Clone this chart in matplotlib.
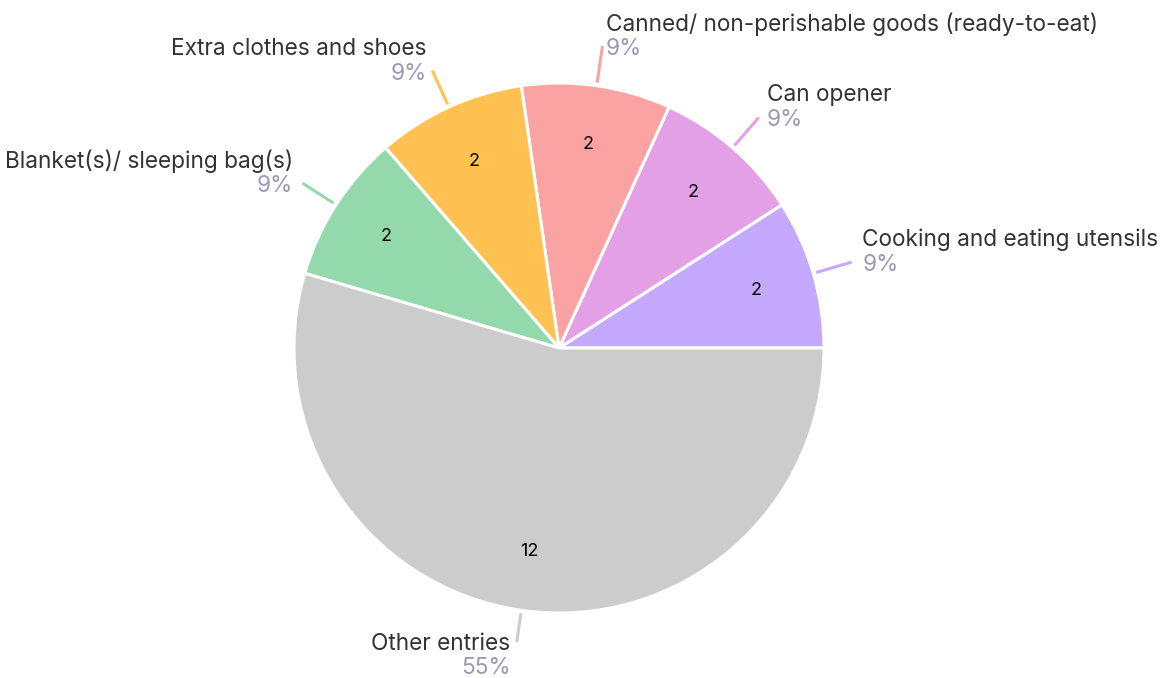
import numpy as np
import matplotlib
matplotlib.use("Agg")
import matplotlib.pyplot as plt
from matplotlib.patches import Wedge

categories = ["Cooking and eating utensils", "Can opener",
              "Canned/ non-perishable goods (ready-to-eat)",
              "Extra clothes and shoes", "Blanket(s)/ sleeping bag(s)",
              "Other entries"]
values = [2, 2, 2, 2, 2, 12]
colors = ["#C5A9FF", "#E3A0E6", "#FBA3A3", "#FFC152", "#94D9AB", "#CCCCCC"]

W, H = 1167, 678
plt.rcParams['font.family'] = ['Inter', 'DejaVu Sans']
fig = plt.figure(figsize=(W / 100, H / 100), dpi=100)
ax = fig.add_axes([0, 0, 1, 1])
ax.set_xlim(0, W)
ax.set_ylim(0, H)
ax.set_aspect('equal')
ax.axis('off')

cx, cy, R = 559, H - 348, 265
total = sum(values)
start = 0.0
fs = 16.3
for cat, v, c in zip(categories, values, colors):
    span = 360.0 * v / total
    ax.add_patch(Wedge((cx, cy), R, start, start + span, facecolor=c,
                       edgecolor='white', linewidth=2.2))
    mid = np.deg2rad(start + span / 2)
    cs, sn = np.cos(mid), np.sin(mid)
    # inner value
    ax.text(cx + 0.775 * R * cs, cy + 0.775 * R * sn, str(v), ha='center',
            va='center', fontsize=13, color='black')
    # leader line
    r0 = R + 3
    r1 = R + 40 if sn >= 0 else R + 32
    ex, ey = cx + r1 * cs, cy + r1 * sn
    ax.plot([cx + r0 * cs, ex], [cy + r0 * sn, ey], color=c, lw=2.2,
            solid_capstyle='butt')
    off = 2 + 9 * abs(cs)
    ha = 'left' if cs >= 0 else 'right'
    tx = ex + off if cs >= 0 else ex - off
    pct = f"{round(100 * v / total)}%"
    if sn >= 0:
        ax.text(tx, ey - 3, pct, ha=ha, va='center', fontsize=fs, color='#9A9AB5')
        ax.text(tx, ey + 22, cat, ha=ha, va='center', fontsize=fs, color='#333333')
    else:
        ax.text(tx - 3, ey - 2, cat, ha=ha, va='center', fontsize=fs, color='#333333')
        ax.text(tx - 3, ey - 26, pct, ha=ha, va='center', fontsize=fs, color='#9A9AB5')
    start += span

fig.savefig("out.png", dpi=100, facecolor='white')
